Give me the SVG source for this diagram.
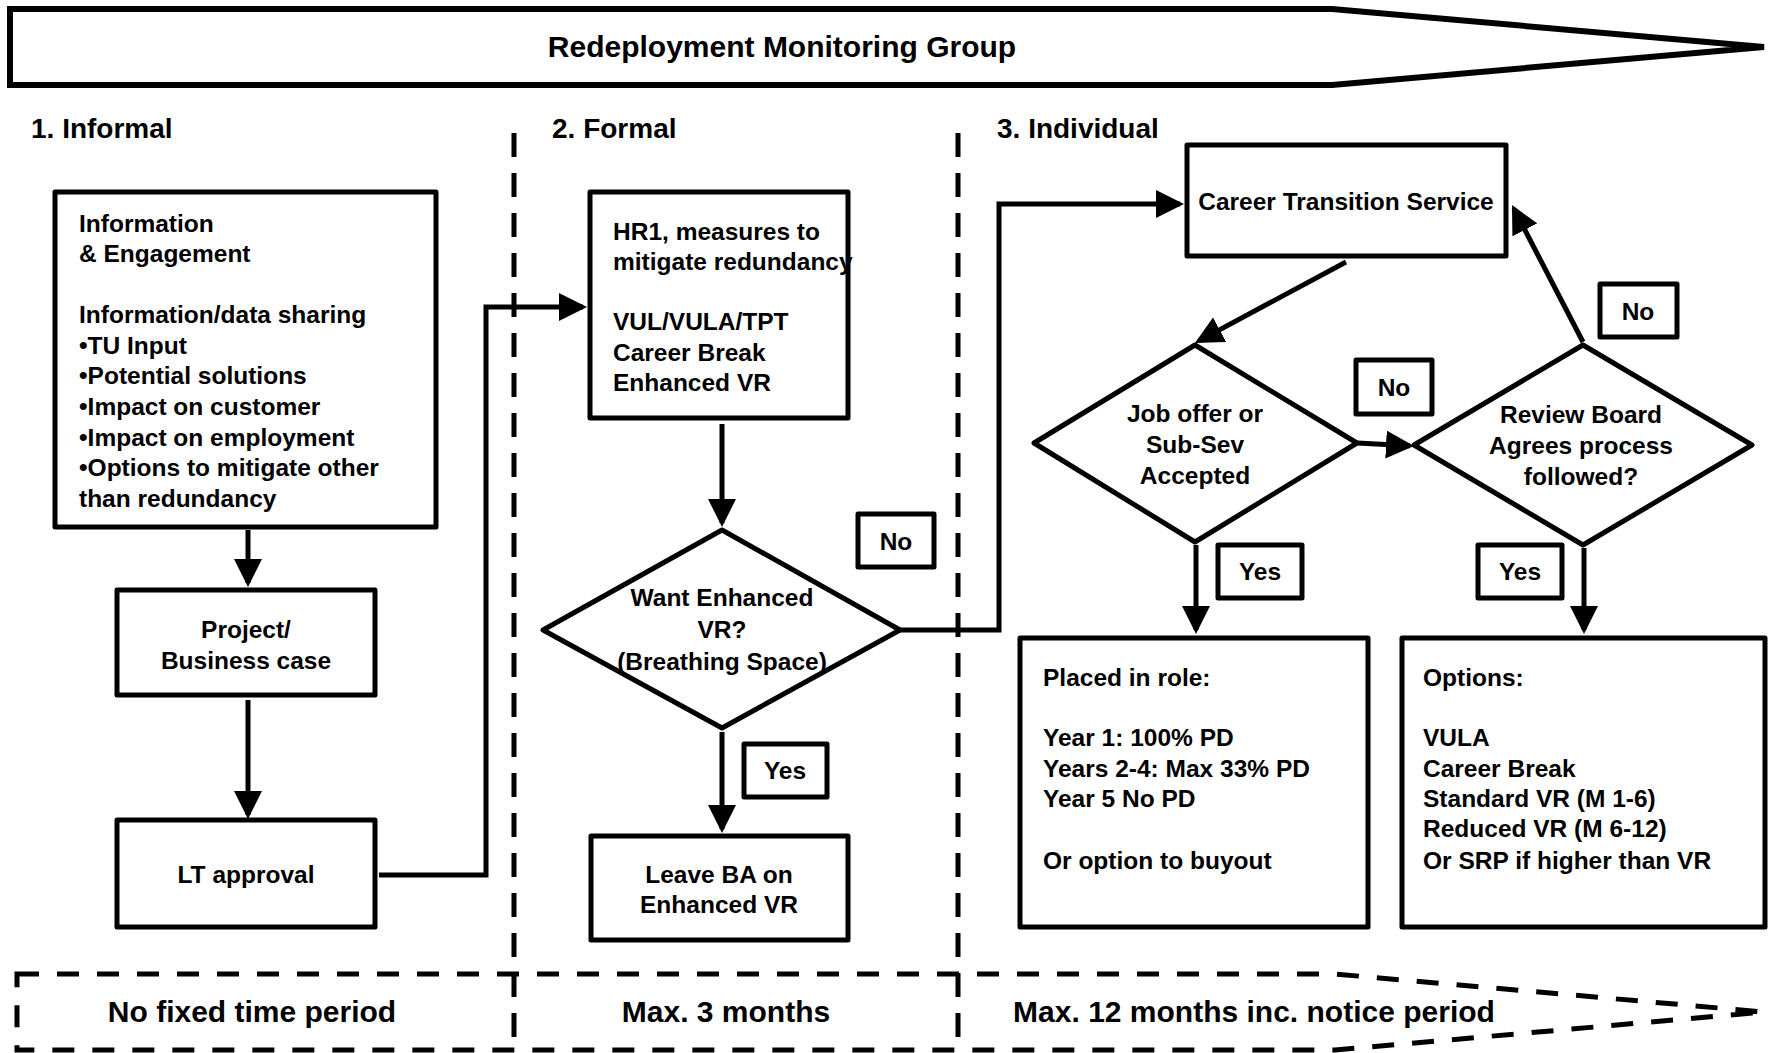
<svg xmlns="http://www.w3.org/2000/svg" width="1769" height="1053" viewBox="0 0 1769 1053">
<style>
.box{fill:#fff;stroke:#000;stroke-width:5;stroke-linejoin:round}
.t{font-family:"Liberation Sans",Arial,sans-serif;font-weight:bold;font-size:24.5px;fill:#000}
.m{text-anchor:middle}
.h{font-size:28px}
.b{font-size:30px}
.conn{fill:none;stroke:#000;stroke-width:5}
.dash{fill:none;stroke:#000;stroke-width:5;stroke-dasharray:24 16}
.band{fill:none;stroke:#000;stroke-width:5;stroke-dasharray:22 18}
</style>
<defs>
<marker id="ah" markerUnits="userSpaceOnUse" markerWidth="28" markerHeight="28" refX="24" refY="14" orient="auto">
<path d="M0,0 L28,14 L0,28 z" fill="#000"/>
</marker>
</defs>
<rect width="1769" height="1053" fill="#fff"/>

<g id="banner">
<polygon points="10,9 1332,9 1764,47 1332,85 10,85" fill="#fff" stroke="#000" stroke-width="6"/>
<text class="t b m" x="782" y="57">Redeployment Monitoring Group</text>
</g>

<g id="headers">
<text class="t h" x="31" y="138">1. Informal</text>
<text class="t h" x="552" y="138">2. Formal</text>
<text class="t h" x="997" y="138">3. Individual</text>
</g>

<g id="dividers">
<line class="dash" x1="514" y1="133" x2="514" y2="1053"/>
<line class="dash" x1="958" y1="133" x2="958" y2="1053"/>
</g>

<g id="timeband">
<polygon class="band" points="17,974 1335,974 1764,1012 1335,1050 17,1050"/>
<text class="t b m" x="252" y="1022">No fixed time period</text>
<text class="t b m" x="726" y="1022">Max. 3 months</text>
<text class="t b m" x="1254" y="1022">Max. 12 months inc. notice period</text>
</g>

<g id="connectors">
<line class="conn" x1="248" y1="530" x2="248" y2="583" marker-end="url(#ah)"/>
<line class="conn" x1="248" y1="700" x2="248" y2="815" marker-end="url(#ah)"/>
<polyline class="conn" points="379,875 486,875 486,307 583,307" marker-end="url(#ah)"/>
<line class="conn" x1="722" y1="424" x2="722" y2="523" marker-end="url(#ah)"/>
<line class="conn" x1="722" y1="732" x2="722" y2="829" marker-end="url(#ah)"/>
<polyline class="conn" points="900,630 999,630 999,204 1180,204" marker-end="url(#ah)"/>
<line class="conn" x1="1346" y1="262" x2="1198.5" y2="341.1" marker-end="url(#ah)"/>
<line class="conn" x1="1357" y1="443" x2="1410" y2="445.8" marker-end="url(#ah)"/>
<line class="conn" x1="1583" y1="342" x2="1513.8" y2="208.6" marker-end="url(#ah)"/>
<line class="conn" x1="1196" y1="545" x2="1196" y2="630" marker-end="url(#ah)"/>
<line class="conn" x1="1584" y1="548" x2="1584" y2="630" marker-end="url(#ah)"/>
</g>

<g id="info">
<rect class="box" x="55" y="192" width="381" height="335"/>
<text class="t" x="79" y="232">Information</text>
<text class="t" x="79" y="262">&amp; Engagement</text>
<text class="t" x="79" y="323">Information/data sharing</text>
<text class="t" x="79" y="354">•TU Input</text>
<text class="t" x="79" y="384">•Potential solutions</text>
<text class="t" x="79" y="415">•Impact on customer</text>
<text class="t" x="79" y="446">•Impact on employment</text>
<text class="t" x="79" y="476">•Options to mitigate other</text>
<text class="t" x="79" y="507">than redundancy</text>
</g>

<g id="project">
<rect class="box" x="117" y="590" width="258" height="105"/>
<text class="t m" x="246" y="638">Project/</text>
<text class="t m" x="246" y="669">Business case</text>
</g>

<g id="lt">
<rect class="box" x="117" y="820" width="258" height="107"/>
<text class="t m" x="246" y="883">LT approval</text>
</g>

<g id="hr1">
<rect class="box" x="590" y="192" width="258" height="226"/>
<text class="t" x="613" y="240">HR1, measures to</text>
<text class="t" x="613" y="270">mitigate redundancy</text>
<text class="t" x="613" y="330">VUL/VULA/TPT</text>
<text class="t" x="613" y="361">Career Break</text>
<text class="t" x="613" y="391">Enhanced VR</text>
</g>

<g id="wantvr">
<polygon class="box" points="722,530 900,630 722,728 543,630"/>
<text class="t m" x="722" y="606">Want Enhanced</text>
<text class="t m" x="722" y="638">VR?</text>
<text class="t m" x="722" y="670">(Breathing Space)</text>
</g>

<g id="no1">
<rect class="box" x="858" y="514" width="76" height="53"/>
<text class="t m" x="896" y="550">No</text>
</g>

<g id="yes1">
<rect class="box" x="744" y="744" width="83" height="53"/>
<text class="t m" x="785" y="779">Yes</text>
</g>

<g id="leaveba">
<rect class="box" x="591" y="836" width="257" height="104"/>
<text class="t m" x="719" y="883">Leave BA on</text>
<text class="t m" x="719" y="913">Enhanced VR</text>
</g>

<g id="cts">
<rect class="box" x="1187" y="145" width="319" height="111"/>
<text class="t m" x="1346" y="210">Career Transition Service</text>
</g>

<g id="joboffer">
<polygon class="box" points="1195,345 1357,443 1195,542 1034,443"/>
<text class="t m" x="1195" y="422">Job offer or</text>
<text class="t m" x="1195" y="453">Sub-Sev</text>
<text class="t m" x="1195" y="484">Accepted</text>
</g>

<g id="no2">
<rect class="box" x="1356" y="360" width="76" height="54"/>
<text class="t m" x="1394" y="396">No</text>
</g>

<g id="review">
<polygon class="box" points="1583,345 1752,445 1583,545 1414,445"/>
<text class="t m" x="1581" y="423">Review Board</text>
<text class="t m" x="1581" y="454">Agrees process</text>
<text class="t m" x="1581" y="485">followed?</text>
</g>

<g id="no3">
<rect class="box" x="1600" y="284" width="77" height="53"/>
<text class="t m" x="1638" y="320">No</text>
</g>

<g id="yes2">
<rect class="box" x="1218" y="545" width="84" height="53"/>
<text class="t m" x="1260" y="580">Yes</text>
</g>

<g id="yes3">
<rect class="box" x="1478" y="545" width="84" height="53"/>
<text class="t m" x="1520" y="580">Yes</text>
</g>

<g id="placed">
<rect class="box" x="1020" y="638" width="348" height="289"/>
<text class="t" x="1043" y="686">Placed in role:</text>
<text class="t" x="1043" y="746">Year 1: 100% PD</text>
<text class="t" x="1043" y="777">Years 2-4: Max 33% PD</text>
<text class="t" x="1043" y="807">Year 5 No PD</text>
<text class="t" x="1043" y="869">Or option to buyout</text>
</g>

<g id="options">
<rect class="box" x="1402" y="638" width="363" height="289"/>
<text class="t" x="1423" y="686">Options:</text>
<text class="t" x="1423" y="746">VULA</text>
<text class="t" x="1423" y="777">Career Break</text>
<text class="t" x="1423" y="807">Standard VR (M 1-6)</text>
<text class="t" x="1423" y="837">Reduced VR (M 6-12)</text>
<text class="t" x="1423" y="869">Or SRP if higher than VR</text>
</g>
</svg>
